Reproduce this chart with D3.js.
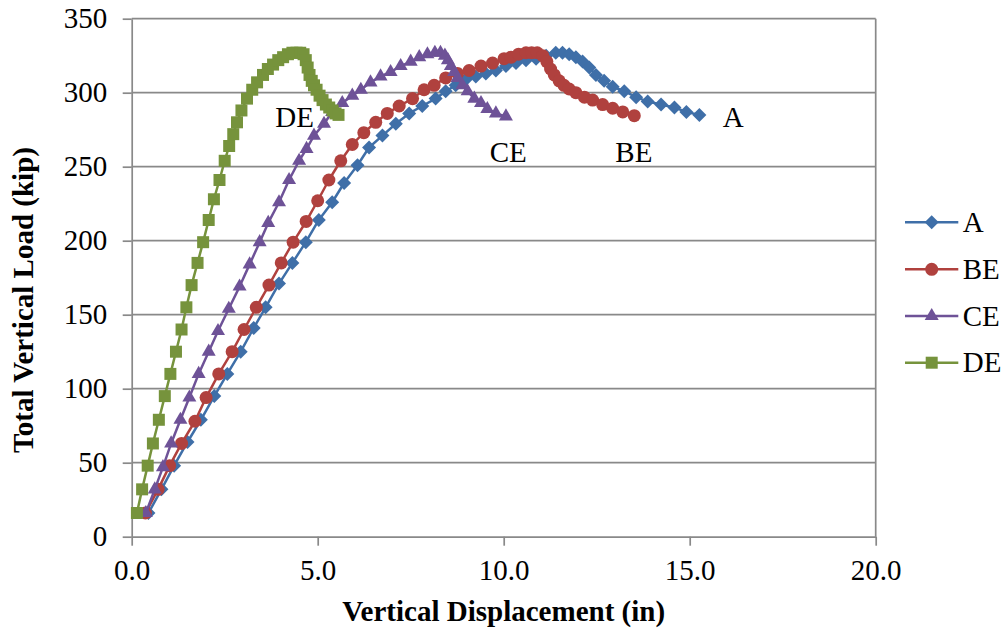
<!DOCTYPE html>
<html><head><meta charset="utf-8">
<script src="https://cdn.jsdelivr.net/npm/d3@7"></script>
<style>body{margin:0;background:#fff} svg{display:block}</style>
</head><body>
<svg id="chart" width="1007" height="631"></svg>
<script>
const xTicks = [0, 5, 10, 15, 20];
const yTicks = [0, 50, 100, 150, 200, 250, 300, 350];
const seriesNames = ["A", "BE", "CE", "DE"];

const aDisp = [0.45,0.80,1.14,1.50,1.86,2.22,2.57,2.93,3.28,3.60,3.96,4.32,4.68,5.03,5.39,5.71,6.07,6.38,6.74,7.10,7.46,7.81,8.17,8.44,8.71,8.98,9.25,9.52,9.79,10.06,10.33,10.60,10.87,11.14,11.40,11.58,11.76,11.94,12.12,12.30,12.48,12.70,12.93,13.24,13.56,13.87,14.23,14.59,14.91,15.26];
const aLoad = [16,32,48,64,79,95,110,125,141,155,171,185,199,214,226,239,251,263,271,279,286,291,296,301,305,309,311,313,315,318,320,322,323,325,327,327,326,324,321,317,312,308,304,301,297,294,292,290,287,285];

const beDisp = [0.37,0.71,1.02,1.34,1.70,2.00,2.34,2.70,3.02,3.35,3.69,4.02,4.34,4.69,5.00,5.30,5.62,5.93,6.24,6.56,6.87,7.19,7.55,7.86,8.13,8.44,8.76,9.07,9.39,9.70,10.01,10.20,10.40,10.60,10.75,10.90,11.05,11.16,11.26,11.36,11.49,11.62,11.76,11.94,12.17,12.39,12.66,12.93,13.20,13.51];
const beLoad = [16,32,48,63,78,94,110,125,140,155,170,185,199,213,227,241,254,265,273,280,286,291,296,302,305,310,313,315,318,320,323,324,326,327,327,327,325,321,316,312,308,305,302.5,300,297,295,292,289.5,287,284.5];

const ceDisp = [0.38,0.62,0.84,1.06,1.31,1.55,1.80,2.07,2.32,2.61,2.90,3.17,3.44,3.67,3.96,4.23,4.50,4.70,4.90,5.17,5.39,5.66,5.93,6.16,6.42,6.69,6.96,7.23,7.50,7.73,7.95,8.15,8.30,8.42,8.50,8.58,8.67,8.76,8.89,9.03,9.21,9.39,9.56,9.79,10.06];
const ceLoad = [16,32,47,63,79,94,110,125,139,154,169,184,199,212,226,241,254,262,271,279,287,293,298,302,307,311,314,318,321,324,326,327,327,325,322,318,314,310,305,301,296,293,289,286,284];

const deDisp = [0.14,0.28,0.43,0.57,0.73,0.89,1.04,1.19,1.34,1.47,1.61,1.77,1.92,2.07,2.21,2.36,2.50,2.62,2.73,2.83,2.95,3.10,3.24,3.37,3.53,3.66,3.80,3.94,4.07,4.20,4.32,4.43,4.53,4.62,4.68,4.73,4.78,4.84,4.90,4.97,5.05,5.13,5.22,5.31,5.40,5.48,5.56];
const deLoad = [16,32,48,63,79,95,110,125,140,155,170,185,199,214,228,241,254,264,272,280,288,296,302,307,312,316,319,322,324,326,327,327,327,326,322,317,312,308,305,302,298,295,292,290,288,286,285];

const colors = ["#3F6FA8", "#B0413E", "#6E5297", "#76933C"];

const svg = d3.select("#chart");
const m = {left: 131.7, right: 875.7, top: 18.7, bottom: 536.7};
const x = d3.scaleLinear().domain([0, 20]).range([m.left, m.right]);
const y = d3.scaleLinear().domain([0, 350]).range([m.bottom, m.top]);
const gridColor = "#898989";
const font = "'Liberation Serif','Times New Roman',serif";

// gridlines
svg.append("g").selectAll("line").data(yTicks.filter(d => d > 0)).join("line")
  .attr("x1", m.left).attr("x2", m.right)
  .attr("y1", d => y(d)).attr("y2", d => y(d))
  .attr("stroke", gridColor).attr("stroke-width", 1.7);
// right border
svg.append("line").attr("x1", m.right).attr("x2", m.right)
  .attr("y1", m.top).attr("y2", m.bottom)
  .attr("stroke", gridColor).attr("stroke-width", 1.7);

// axes
const yAxis = svg.append("g").attr("transform", `translate(${m.left},0)`)
  .call(d3.axisLeft(y).tickValues(yTicks).tickFormat(d3.format("d")).tickSize(9).tickSizeOuter(0).tickPadding(15.5));
const xAxis = svg.append("g").attr("transform", `translate(0,${m.bottom})`)
  .call(d3.axisBottom(x).tickValues(xTicks).tickFormat(d3.format(".1f")).tickSize(9).tickSizeOuter(0).tickPadding(14));
[xAxis, yAxis].forEach(g => {
  g.selectAll("path,line").attr("stroke", gridColor).attr("stroke-width", 1.7);
  g.selectAll("text").attr("font-family", font).attr("font-size", 29).attr("fill", "#000");
});

// axis titles
svg.append("text").attr("x", (m.left + m.right) / 2).attr("y", 621)
  .attr("text-anchor", "middle").attr("font-family", font).attr("font-weight", "bold")
  .attr("font-size", 29).text("Vertical Displacement (in)");
svg.append("text").attr("transform", "translate(33,300) rotate(-90)")
  .attr("text-anchor", "middle").attr("font-family", font).attr("font-weight", "bold")
  .attr("font-size", 29).text("Total Vertical Load (kip)");

// markers
const diamondPath = "M0,-7L7,0L0,7L-7,0Z";
const markerPaths = [
  diamondPath,
  d3.symbol(d3.symbolCircle, 133)(),
  d3.symbol(d3.symbolTriangle, 85)(),
  d3.symbol(d3.symbolSquare, 144)()
];

const allSeries = [
  {name: seriesNames[0], disp: aDisp, load: aLoad},
  {name: seriesNames[1], disp: beDisp, load: beLoad},
  {name: seriesNames[2], disp: ceDisp, load: ceLoad},
  {name: seriesNames[3], disp: deDisp, load: deLoad}
];

const line = d3.line().x(d => x(d[0])).y(d => y(d[1]));
allSeries.forEach((s, i) => {
  const pts = s.disp.map((d, k) => [d, s.load[k]]);
  const g = svg.append("g");
  g.append("path").datum(pts).attr("d", line).attr("fill", "none")
    .attr("stroke", colors[i]).attr("stroke-width", 2.5).attr("stroke-linejoin", "round");
  g.selectAll("path.mk").data(pts).join("path").attr("class", "mk")
    .attr("d", markerPaths[i])
    .attr("transform", d => `translate(${x(d[0])},${y(d[1])})`)
    .attr("fill", colors[i]);
});

// inline labels
const labelPos = [
  {t: "DE", x: 4.38, y: 277},
  {t: "CE", x: 10.12, y: 253},
  {t: "BE", x: 13.5, y: 253},
  {t: "A", x: 16.17, y: 277}
];
svg.append("g").selectAll("text").data(labelPos).join("text")
  .attr("x", d => x(d.x)).attr("y", d => y(d.y))
  .attr("text-anchor", "middle").attr("font-family", font).attr("font-size", 29)
  .text(d => d.t);

// legend
const legY = [222.3, 269.3, 316, 362.7];
const leg = svg.append("g");
allSeries.forEach((s, i) => {
  leg.append("line").attr("x1", 905).attr("x2", 958.3).attr("y1", legY[i]).attr("y2", legY[i])
    .attr("stroke", colors[i]).attr("stroke-width", 2.5);
  leg.append("path").attr("d", markerPaths[i]).attr("transform", `translate(931.7,${legY[i]})`)
    .attr("fill", colors[i]);
  leg.append("text").attr("x", 962.7).attr("y", legY[i] + 9.7)
    .attr("font-family", font).attr("font-size", 29).text(s.name);
});
</script>
</body></html>
